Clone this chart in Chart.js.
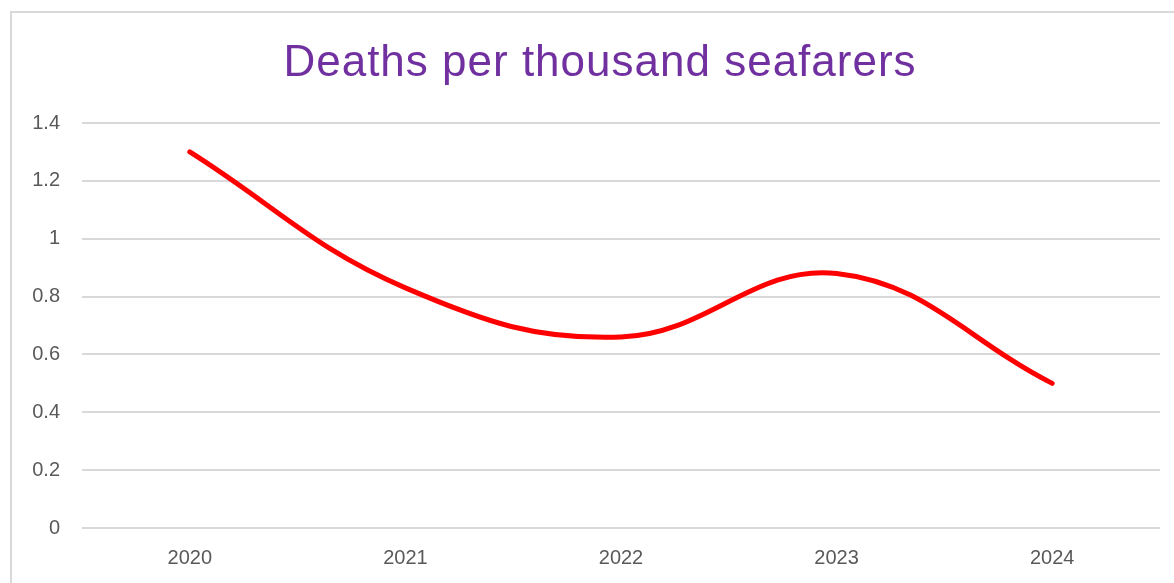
<!DOCTYPE html>
<html>
<head>
<meta charset="utf-8">
<script src="https://cdn.jsdelivr.net/npm/chart.js@4"></script>
<style>
    html, body { margin: 0; padding: 0; background: #fff; overflow: hidden; }
    #frame {
        position: absolute; left: 10px; top: 11px;
        width: 1200px; height: 620px;
        border: 2px solid #d9d9d9; box-sizing: border-box;
    }
    #wrap { position: absolute; left: 0; top: 0; width: 1174px; height: 583px; }
</style>
</head>
<body>
<div id="frame"></div>
<div id="wrap"><canvas id="deaths-chart"></canvas></div>
<script>
const TITLE = 'Deaths per thousand seafarers'
const YEARS = ['2020', '2021', '2022', '2023', '2024']
const DEATHS_PER_THOUSAND = [1.30, 0.83, 0.66, 0.88, 0.50]
const Y_TICKS = [0, 0.2, 0.4, 0.6, 0.8, 1, 1.2, 1.4]

const GRID = '#d9d9d9'
const LABEL = '#595959'
const FONT = "'Liberation Sans', Arial, sans-serif"

// title is centred on the framed box rather than on the canvas
const frameTitle = {
    id: 'frameTitle',
    afterDraw(chart) {
        const ctx = chart.ctx
        ctx.save()
        ctx.font = '44px ' + FONT
        ctx.fillStyle = '#7030a0'
        ctx.textAlign = 'center'
        ctx.textBaseline = 'alphabetic'
        ctx.letterSpacing = '1px'
        ctx.fillText(TITLE, 600, 76)
        ctx.restore()
    }
}

const config = {
    type: 'line',
    data: {
        labels: YEARS,
        datasets: [
            {
                data: DEATHS_PER_THOUSAND,
                borderColor: '#ff0000',
                borderWidth: 5,
                borderCapStyle: 'round',
                tension: 0.4,
                pointRadius: 0,
                fill: false,
            }
        ],
    },
    options: {
        responsive: true,
        maintainAspectRatio: false,
        animation: false,
        layout: {
            padding: { left: 0, right: 14, top: 123, bottom: 0 },
        },
        scales: {
            x: {
                offset: true,
                grid: { display: false, drawTicks: false },
                border: { display: false },
                ticks: {
                    color: LABEL,
                    font: { family: FONT, size: 20 },
                    padding: 18,
                    maxRotation: 0,
                },
                afterFit: function (scale) { scale.height = 55 },
            },
            y: {
                min: 0,
                max: 1.4,
                afterBuildTicks: function (scale) {
                    scale.ticks = Y_TICKS.map(v => ({ value: v }))
                },
                grid: { color: GRID, lineWidth: 2, drawTicks: false },
                border: { display: false },
                ticks: {
                    color: LABEL,
                    font: { family: FONT, size: 20 },
                    padding: 22,
                    callback: function (value) { return String(value) },
                },
                afterFit: function (scale) { scale.width = 82 },
            }
        },
        plugins: {
            legend: { display: false },
            tooltip: { enabled: false },
            title: { display: false },
        }
    },
    plugins: [frameTitle],
}

new Chart(document.getElementById('deaths-chart').getContext('2d'), config)
</script>
</body>
</html>
